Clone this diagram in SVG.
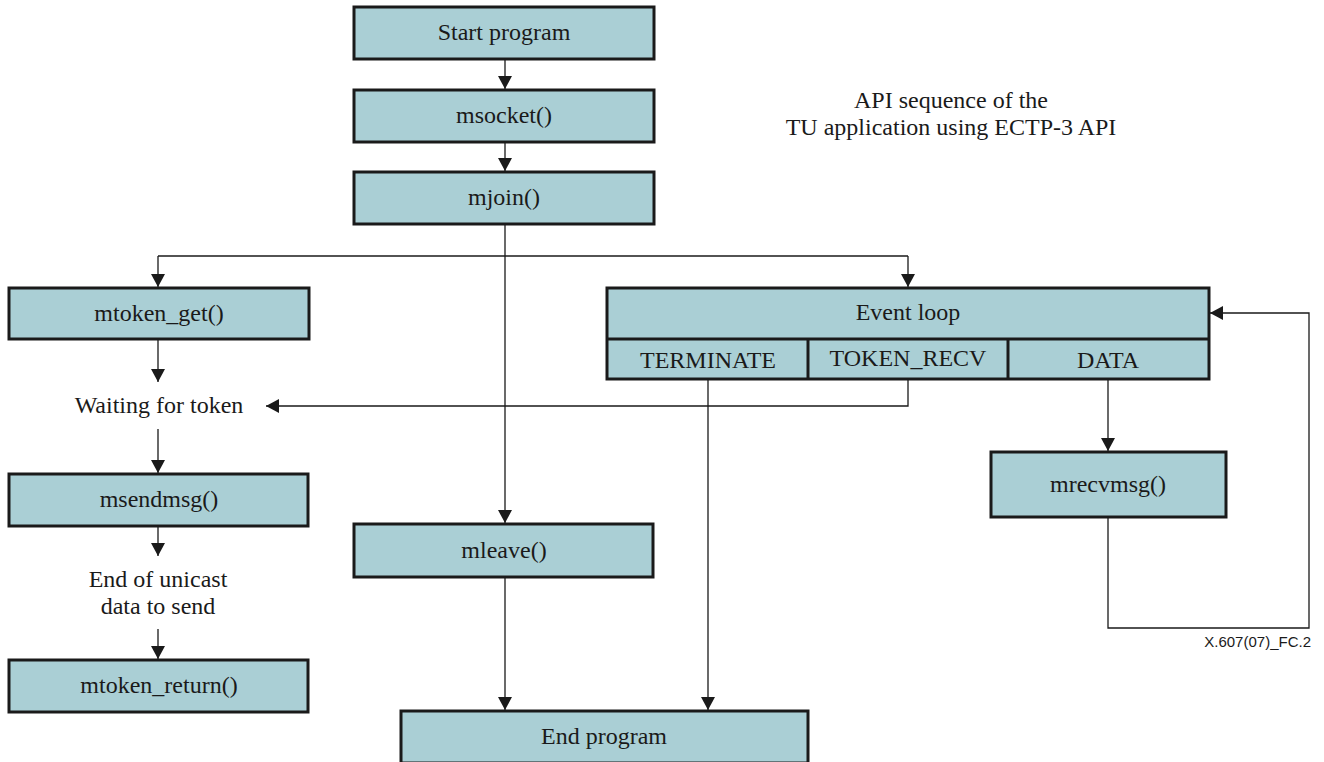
<svg xmlns="http://www.w3.org/2000/svg" width="1324" height="762" viewBox="0 0 1324 762">
  <defs>
    <marker id="arrow" viewBox="0 0 13 14" refX="13" refY="7" markerWidth="13" markerHeight="14" markerUnits="userSpaceOnUse" orient="auto">
      <path d="M0,0 L13,7 L0,14 Z" fill="#1a1a1a"/>
    </marker>
  </defs>
  <style>
    .box { fill: #aacfd5; stroke: #1a1a1a; stroke-width: 3; }
    .lbl { font-family: "Liberation Serif", "Times New Roman", serif; font-size: 24px; fill: #1a1a1a; text-anchor: middle; }
    .note { font-family: "Liberation Serif", "Times New Roman", serif; font-size: 24px; fill: #1a1a1a; text-anchor: middle; }
    .tag { font-family: "Liberation Sans", Arial, sans-serif; font-size: 15px; fill: #1a1a1a; text-anchor: end; }
    .wire { fill: none; stroke: #1a1a1a; stroke-width: 1.3; }
    .arr { marker-end: url(#arrow); }
  </style>
  <rect width="1324" height="762" fill="#ffffff"/>

  <!-- connectors -->
  <g id="connectors">
    <line class="wire arr" x1="505" y1="59" x2="505" y2="89"/>
    <line class="wire arr" x1="505" y1="142" x2="505" y2="171"/>
    <line class="wire arr" x1="505" y1="224" x2="505" y2="523"/>
    <line class="wire" x1="158" y1="256" x2="908" y2="256"/>
    <line class="wire arr" x1="158" y1="256" x2="158" y2="287"/>
    <line class="wire arr" x1="908" y1="256" x2="908" y2="287"/>
    <line class="wire arr" x1="158" y1="339" x2="158" y2="382"/>
    <polyline class="wire arr" points="908,379 908,406 266,406"/>
    <line class="wire arr" x1="158" y1="429" x2="158" y2="473"/>
    <line class="wire arr" x1="158" y1="526" x2="158" y2="556"/>
    <line class="wire arr" x1="158" y1="629" x2="158" y2="659"/>
    <line class="wire arr" x1="505" y1="577" x2="505" y2="710"/>
    <line class="wire arr" x1="708" y1="379" x2="708" y2="710"/>
    <line class="wire arr" x1="1108" y1="379" x2="1108" y2="451"/>
    <polyline class="wire arr" points="1108,517 1108,628 1309,628 1309,313 1210,313"/>
  </g>

  <g id="start">
    <rect class="box" x="354" y="7" width="300" height="52"/>
    <text class="lbl" x="504" y="40">Start program</text>
  </g>
  <g id="msocket">
    <rect class="box" x="354" y="90" width="300" height="52"/>
    <text class="lbl" x="504" y="123">msocket()</text>
  </g>
  <g id="mjoin">
    <rect class="box" x="354" y="172" width="300" height="52"/>
    <text class="lbl" x="504" y="205">mjoin()</text>
  </g>

  <g id="title">
    <text class="note" x="951" y="108">API sequence of the</text>
    <text class="note" x="951" y="135">TU application using ECTP-3 API</text>
  </g>

  <g id="mtoken_get">
    <rect class="box" x="9" y="288" width="300" height="51"/>
    <text class="lbl" x="159" y="321">mtoken_get()</text>
  </g>
  <g id="waiting">
    <text class="lbl" x="159" y="413">Waiting for token</text>
  </g>
  <g id="msendmsg">
    <rect class="box" x="9" y="474" width="299" height="52"/>
    <text class="lbl" x="159" y="507">msendmsg()</text>
  </g>
  <g id="end_unicast">
    <text class="lbl" x="158" y="587">End of unicast</text>
    <text class="lbl" x="158" y="614">data to send</text>
  </g>
  <g id="mtoken_return">
    <rect class="box" x="9" y="660" width="299" height="52"/>
    <text class="lbl" x="159" y="693">mtoken_return()</text>
  </g>

  <g id="event_loop">
    <rect class="box" x="607" y="288" width="602" height="91"/>
    <line stroke="#1a1a1a" stroke-width="3" x1="607" y1="339" x2="1209" y2="339"/>
    <line stroke="#1a1a1a" stroke-width="3" x1="808" y1="339" x2="808" y2="379"/>
    <line stroke="#1a1a1a" stroke-width="3" x1="1008" y1="339" x2="1008" y2="379"/>
    <text class="lbl" x="908" y="320">Event loop</text>
    <text class="lbl" x="708" y="368">TERMINATE</text>
    <text class="lbl" x="908" y="366">TOKEN_RECV</text>
    <text class="lbl" x="1108" y="368">DATA</text>
  </g>

  <g id="mrecvmsg">
    <rect class="box" x="991" y="452" width="235" height="65"/>
    <text class="lbl" x="1108" y="492">mrecvmsg()</text>
  </g>

  <g id="mleave">
    <rect class="box" x="354" y="524" width="299" height="53"/>
    <text class="lbl" x="504" y="558">mleave()</text>
  </g>

  <g id="end">
    <rect class="box" x="401" y="711" width="407" height="52"/>
    <text class="lbl" x="604" y="744">End program</text>
  </g>

  <text class="tag" x="1311" y="647">X.607(07)_FC.2</text>
</svg>
